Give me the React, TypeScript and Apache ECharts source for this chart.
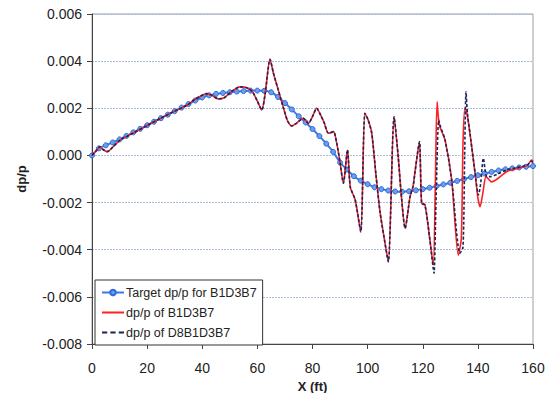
import React, { useEffect, useRef } from "react";
import * as echarts from "echarts";

const xTicks = [0, 20, 40, 60, 80, 100, 120, 140, 160];
const yTicks = [-0.008, -0.006, -0.004, -0.002, 0, 0.002, 0.004, 0.006];

const targetX = [
  0, 2.5, 5, 7.5, 10, 12.5, 15, 17.5, 20, 22.5, 25, 27.5, 30, 32.5, 35, 37.5, 40,
  42.5, 45, 47.5, 50, 52.5, 55, 57.5, 60, 62.5, 65, 67.5, 70, 72.5, 75, 77.5, 80,
  82.5, 85, 87.5, 90, 92.5, 95, 97.5, 100, 102.5, 105, 107.5, 110, 112.5, 115,
  117.5, 120, 122.5, 125, 127.5, 130, 132.5, 135, 137.5, 140, 142.5, 145, 147.5,
  150, 152.5, 155, 157.5, 160,
];
const targetY = [
  0, 0.0003, 0.00043, 0.00055, 0.00068, 0.00083, 0.00098, 0.00113, 0.00128,
  0.00143, 0.00158, 0.00173, 0.00188, 0.00203, 0.00218, 0.00233, 0.00246,
  0.00255, 0.00261, 0.00265, 0.00268, 0.00271, 0.00273, 0.00275, 0.00275,
  0.00274, 0.00268, 0.00248, 0.00222, 0.00195, 0.00166, 0.0014, 0.00112,
  0.00082, 0.0005, 0.00015, -0.0003, -0.0006, -0.00088, -0.00107, -0.00122,
  -0.00135, -0.00143, -0.00149, -0.00153, -0.00154, -0.00152, -0.00148,
  -0.00143, -0.00137, -0.0013, -0.00123, -0.00116, -0.00108, -0.001, -0.00092,
  -0.00084, -0.00077, -0.0007, -0.00064, -0.00059, -0.00055, -0.00051,
  -0.00048, -0.00045,
];

const b1X = [
  0, 1.5, 2.9, 4, 5.6, 7.5, 10.2, 15, 20, 25, 30, 34.3, 37, 39.5, 41.6, 43.5,
  45.8, 48, 50.5, 53.7, 56.7, 58.5, 60, 61.6, 62.8, 64.6, 65.8, 67.6, 69.5, 71,
  72.5, 74, 76.7, 78.5, 80, 81.5, 83, 84.2, 85.8, 87.6, 88.8, 90, 91.2, 92.7,
  93.7, 95.5, 97.5, 99, 100.2, 101.5, 103, 104.5, 106, 107.5, 109.6, 111.1,
  112.3, 113.6, 115.4, 116.5, 117.2, 118.8, 119.6, 120.8, 122.5, 123.8, 124.6,
  125.2, 126, 128.1, 130.5, 132.9, 134, 134.6, 135.3, 136, 137.2, 139, 140,
  140.8, 141.8, 143, 145, 147, 150.4, 153, 156.5, 158, 159.5, 160,
];
const b1Y = [
  0, 0.0002, 0.00037, 0.00025, 0.00016, 0.00035, 0.00065, 0.00095, 0.00127,
  0.00158, 0.00188, 0.00212, 0.00235, 0.00252, 0.00262, 0.00255, 0.0024,
  0.00245, 0.0027, 0.00291, 0.00285, 0.00265, 0.0023, 0.00193, 0.0026, 0.00408,
  0.0035, 0.00277, 0.002, 0.00145, 0.00125, 0.00135, 0.00157, 0.00136, 0.00165,
  0.002, 0.0017, 0.0014, 0.00094, 0.00101, 0.00051, -0.0003, -0.00118, 0.00023,
  -0.00133, -0.00189, -0.00324, 0.00179, 0.0015, 0.00094, -0.0008, -0.0024,
  -0.0035, -0.00451, 0.00164, -0.00006, -0.0018, -0.00309, -0.00175, -0.0013,
  -0.00069, 0.00058, -0.00203, -0.0021, -0.0035, -0.00465, -0.001, 0.00228,
  0.0013, 0.00065, -0.00104, -0.00423, -0.0035, 0.0005, 0.002, 0.0018, 0.00087,
  -0.00076, -0.0018, -0.00218, -0.0016, -0.0009, -0.00112, -0.001, -0.00069,
  -0.0006, -0.00048, -0.00042, -0.0002, -0.00025,
];

const d8X = [
  0, 1.5, 2.9, 4, 5.6, 7.5, 10.2, 15, 20, 25, 30, 34.3, 37, 39.5, 41.6, 43.5,
  45.8, 48, 50.5, 53.7, 56.7, 58.5, 60, 61.6, 62.8, 64.6, 65.8, 67.6, 69.5, 71,
  72.5, 74, 76.7, 78.5, 80, 81.5, 83, 84.2, 85.8, 87.6, 88.8, 90, 91.2, 92.7,
  93.7, 95.5, 97.5, 99, 100.2, 101.5, 103, 104.5, 106, 107.5, 109.6, 111.1,
  112.3, 113.6, 115.4, 116.5, 117.2, 118.8, 119.6, 120.8, 122.5, 123.8, 124.1,
  124.8, 125.8, 126.5, 128.1, 130.5, 133.5, 134.6, 135.2, 135.7, 136.2, 137.2,
  139, 140.2, 141, 142, 143.2, 144.4, 147, 150.4, 153, 156.5, 158, 159.5, 160,
];
const d8Y = [
  0, 0.0002, 0.00037, 0.00025, 0.00016, 0.00035, 0.00065, 0.00095, 0.00127,
  0.00158, 0.00188, 0.00212, 0.00235, 0.00252, 0.00262, 0.00255, 0.0024,
  0.00245, 0.0027, 0.00291, 0.00285, 0.00265, 0.0023, 0.00193, 0.0026, 0.00408,
  0.0035, 0.00277, 0.002, 0.00145, 0.00125, 0.00135, 0.00157, 0.00136, 0.00165,
  0.002, 0.0017, 0.0014, 0.00094, 0.00101, 0.00051, -0.0003, -0.00118, 0.00023,
  -0.00133, -0.00189, -0.00324, 0.00179, 0.0015, 0.00094, -0.0008, -0.0024,
  -0.0035, -0.00451, 0.00164, -0.00006, -0.0018, -0.00309, -0.00175, -0.0013,
  -0.00069, 0.00058, -0.00203, -0.0021, -0.0035, -0.0048, -0.005, -0.002,
  0.0015, 0.0012, 0.00065, -0.00104, -0.00415, -0.0039, 0, 0.0027, 0.0018,
  0.00087, -0.00076, -0.00168, -0.0012, -0.00012, -0.0009, -0.0009, -0.0008,
  -0.00062, -0.00055, -0.00045, -0.0004, -0.00025, -0.0003,
];

const seriesNames = [
  "Target dp/p for B1D3B7",
  "dp/p of B1D3B7",
  "dp/p of D8B1D3B7",
];

const pairs = (xs: number[], ys: number[]) => xs.map((x, i) => [x, ys[i]]);

export default function App() {
  const ref = useRef<HTMLDivElement>(null);
  useEffect(() => {
    if (!ref.current) return;
    const chart = echarts.init(ref.current, undefined, { renderer: "svg" });
    const labelFont = "'Liberation Sans', Arial, sans-serif";
    chart.setOption({
      animation: false,
      backgroundColor: "#ffffff",
      grid: {
        left: 92,
        right: 17,
        top: 14,
        bottom: 49,
        outerBoundsMode: "none",
        containLabel: false,
        show: true,
        borderColor: "#a0a0a0",
        borderWidth: 1,
      },
      legend: {
        orient: "vertical",
        left: 95,
        top: 280,
        padding: [5, 6, 5, 6],
        itemGap: 5,
        itemWidth: 22,
        itemHeight: 7,
        backgroundColor: "#ffffff",
        borderColor: "#333333",
        borderWidth: 1,
        data: [
          { name: seriesNames[0] },
          { name: seriesNames[1], icon: "path://M0,0h22v2h-22z" },
          {
            name: seriesNames[2],
            icon: "path://M0,0h5v2h-5z M8,0h5v2h-5z M16,0h5v2h-5z",
          },
        ],
        textStyle: {
          fontFamily: labelFont,
          fontSize: 12.5,
          lineHeight: 15,
          color: "#222222",
          padding: [0, 0, 0, -3],
        },
      },
      xAxis: {
        type: "value",
        min: 0,
        max: 160,
        interval: 20,
        name: "X (ft)",
        nameLocation: "middle",
        nameGap: 32,
        nameTextStyle: {
          fontFamily: labelFont,
          fontWeight: "bold",
          fontSize: 13,
          color: "#222",
        },
        axisLine: { show: true, onZero: false, lineStyle: { color: "#444", width: 1 } },
        axisTick: { show: true, inside: false, length: 5, lineStyle: { color: "#444" } },
        axisLabel: {
          fontFamily: labelFont,
          fontSize: 14,
          color: "#222",
          margin: 17,
          customValues: xTicks,
        },
        splitLine: { show: false },
      },
      yAxis: {
        type: "value",
        min: -0.008,
        max: 0.006,
        interval: 0.002,
        name: "dp/p",
        nameLocation: "middle",
        nameGap: 64,
        nameTextStyle: {
          fontFamily: labelFont,
          fontWeight: "bold",
          fontSize: 13,
          color: "#222",
        },
        axisLine: { show: true, onZero: false, lineStyle: { color: "#444", width: 1 } },
        axisTick: { show: true, inside: false, length: 5, lineStyle: { color: "#444" } },
        axisLabel: {
          fontFamily: labelFont,
          fontSize: 14,
          color: "#222",
          margin: 10,
          formatter: (v: number) => {
            const t = yTicks.find((k) => Math.abs(k - v) < 1e-9);
            return (t !== undefined ? t : v).toFixed(3);
          },
        },
        splitLine: {
          show: true,
          lineStyle: { color: "#a9bddb", width: 1, type: [2, 1] },
        },
      },
      series: [
        {
          name: seriesNames[0],
          type: "line",
          data: pairs(targetX, targetY),
          smooth: 0.3,
          symbol: "circle",
          symbolSize: 5,
          showSymbol: true,
          lineStyle: { color: "#3b78e0", width: 2 },
          itemStyle: { color: "#6a9cf0", borderColor: "#2f6ad8", borderWidth: 1 },
          z: 2,
        },
        {
          name: seriesNames[1],
          type: "line",
          data: pairs(b1X, b1Y),
          smooth: 0.25,
          showSymbol: false,
          symbol: "none",
          lineStyle: { color: "#ff2020", width: 1.6 },
          itemStyle: { color: "#ff2020" },
          z: 3,
        },
        {
          name: seriesNames[2],
          type: "line",
          data: pairs(d8X, d8Y),
          smooth: 0.25,
          showSymbol: false,
          symbol: "none",
          lineStyle: { color: "#1c2558", width: 1.6, type: [3, 2] },
          itemStyle: { color: "#1c2558" },
          z: 4,
        },
      ],
    });
    return () => chart.dispose();
  }, []);
  return (
    <div
      ref={ref}
      style={{ position: "fixed", left: 0, top: 0, width: 550, height: 393 }}
    />
  );
}
